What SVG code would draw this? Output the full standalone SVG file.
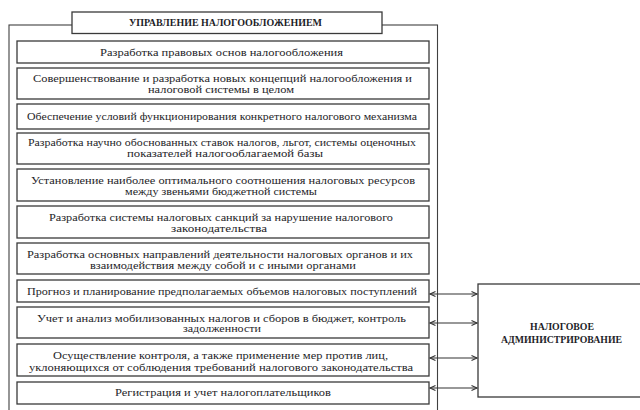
<svg xmlns="http://www.w3.org/2000/svg" width="640" height="410" viewBox="0 0 640 410">
<defs>
<style>
.box{fill:#fff;stroke:#3a3a3a;stroke-width:1.3}
.frame{fill:none;stroke:#404040;stroke-width:1.1}
.t{font-family:"Liberation Serif","Times New Roman",serif;font-size:10.5px;fill:#1e1e28}
.b{font-family:"Liberation Serif","Times New Roman",serif;font-size:10px;font-weight:bold;fill:#1e1e28}
.c{stroke:#333;stroke-width:1.1;fill:none}
</style>
<marker id="ah" markerWidth="8" markerHeight="8" refX="6" refY="3" orient="auto-start-reverse" markerUnits="userSpaceOnUse">
<path d="M0.5,0.5 L6,3 L0.5,5.5" fill="none" stroke="#333" stroke-width="1.1"/>
</marker>
</defs>
<rect width="640" height="410" fill="#fff"/>
<g id="frame">
<rect class="frame" x="9" y="25" width="428.5" height="390"/>
</g>
<g id="title">
<rect class="box" x="72" y="12" width="310" height="21.5"/>
<text class="b" x="129" y="26" textLength="193" lengthAdjust="spacingAndGlyphs">УПРАВЛЕНИЕ НАЛОГООБЛОЖЕНИЕМ</text>
</g>
<g id="n1">
<rect class="box" x="17" y="41" width="412" height="22"/>
<text class="t" x="100" y="55.5" textLength="243" lengthAdjust="spacingAndGlyphs">Разработка правовых основ налогообложения</text>
</g>
<g id="n2">
<rect class="box" x="17" y="68" width="412" height="31"/>
<text class="t" x="33" y="81.5" textLength="379" lengthAdjust="spacingAndGlyphs">Совершенствование и разработка новых концепций налогообложения и</text>
<text class="t" x="148" y="92.5" textLength="146" lengthAdjust="spacingAndGlyphs">налоговой системы в целом</text>
</g>
<g id="n3">
<rect class="box" x="17" y="104" width="412" height="25"/>
<text class="t" x="27" y="119.5" textLength="390" lengthAdjust="spacingAndGlyphs">Обеспечение условий функционирования конкретного налогового механизма</text>
</g>
<g id="n4">
<rect class="box" x="17" y="133" width="412" height="31"/>
<text class="t" x="28" y="145.5" textLength="388" lengthAdjust="spacingAndGlyphs">Разработка научно обоснованных ставок налогов, льгот, системы оценочных</text>
<text class="t" x="127" y="156.5" textLength="196" lengthAdjust="spacingAndGlyphs">показателей налогооблагаемой базы</text>
</g>
<g id="n5">
<rect class="box" x="17" y="169" width="412" height="32"/>
<text class="t" x="31" y="184" textLength="384" lengthAdjust="spacingAndGlyphs">Установление наиболее оптимального соотношения налоговых ресурсов</text>
<text class="t" x="125" y="195" textLength="192" lengthAdjust="spacingAndGlyphs">между звеньями бюджетной системы</text>
</g>
<g id="n6">
<rect class="box" x="17" y="206" width="412" height="32"/>
<text class="t" x="49" y="220.5" textLength="344" lengthAdjust="spacingAndGlyphs">Разработка системы налоговых санкций за нарушение налогового</text>
<text class="t" x="171" y="231.5" textLength="96" lengthAdjust="spacingAndGlyphs">законодательства</text>
</g>
<g id="n7">
<rect class="box" x="17" y="243" width="412" height="31"/>
<text class="t" x="27" y="258" textLength="386" lengthAdjust="spacingAndGlyphs">Разработка основных направлений деятельности налоговых органов и их</text>
<text class="t" x="90" y="269" textLength="266" lengthAdjust="spacingAndGlyphs">взаимодействия между собой и с иными органами</text>
</g>
<g id="n8">
<rect class="box" x="17" y="280" width="412" height="22"/>
<text class="t" x="27" y="294.5" textLength="390" lengthAdjust="spacingAndGlyphs">Прогноз и планирование предполагаемых объемов налоговых поступлений</text>
</g>
<g id="n9">
<rect class="box" x="17" y="307" width="412" height="31"/>
<text class="t" x="37" y="321.5" textLength="369" lengthAdjust="spacingAndGlyphs">Учет и анализ мобилизованных налогов и сборов в бюджет, контроль</text>
<text class="t" x="183" y="332" textLength="78" lengthAdjust="spacingAndGlyphs">задолженности</text>
</g>
<g id="n10">
<rect class="box" x="17" y="344" width="412" height="32"/>
<text class="t" x="53" y="359" textLength="335" lengthAdjust="spacingAndGlyphs">Осуществление контроля, а также применение мер против лиц,</text>
<text class="t" x="29" y="370.5" textLength="384" lengthAdjust="spacingAndGlyphs">уклоняющихся от соблюдения требований налогового законодательства</text>
</g>
<g id="n11">
<rect class="box" x="17" y="382" width="412" height="22"/>
<text class="t" x="115" y="395.5" textLength="216" lengthAdjust="spacingAndGlyphs">Регистрация и учет налогоплательщиков</text>
</g>
<g id="admin">
<rect class="box" x="478" y="284" width="170" height="113"/>
<text class="b" x="530" y="329.5" textLength="64" lengthAdjust="spacingAndGlyphs">НАЛОГОВОЕ</text>
<text class="b" x="501" y="342.5" textLength="121" lengthAdjust="spacingAndGlyphs">АДМИНИСТРИРОВАНИЕ</text>
</g>
<g id="connectors">
<line class="c" x1="430" y1="294" x2="477" y2="294" marker-start="url(#ah)" marker-end="url(#ah)"/>
<line class="c" x1="430" y1="323" x2="477" y2="323" marker-start="url(#ah)" marker-end="url(#ah)"/>
<line class="c" x1="430" y1="358" x2="477" y2="358" marker-start="url(#ah)" marker-end="url(#ah)"/>
<line class="c" x1="430" y1="388" x2="477" y2="388" marker-start="url(#ah)" marker-end="url(#ah)"/>
</g>
</svg>
